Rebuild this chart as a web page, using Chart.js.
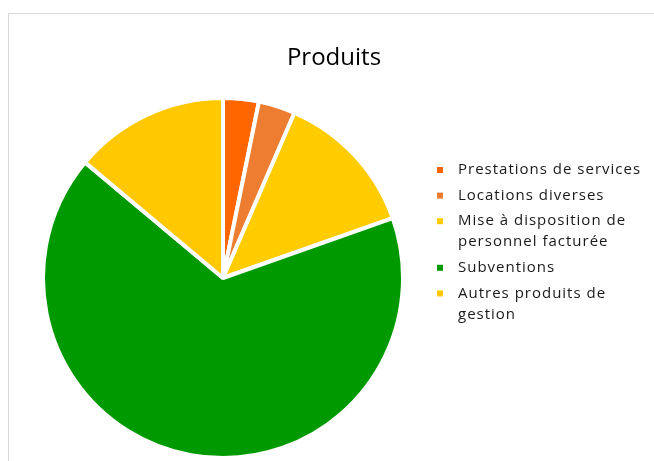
<!DOCTYPE html>
<html><head><meta charset="utf-8">
<script src="https://cdn.jsdelivr.net/npm/chart.js@4.4.1/dist/chart.umd.min.js"></script>
<style>
html,body{margin:0;padding:0;width:654px;height:461px;overflow:hidden;background:#fff;}
#wrap{position:absolute;left:0;top:0;width:654px;height:461px;}
#frame{position:absolute;left:8px;top:13px;width:660px;height:470px;border:1px solid #d9d9d9;pointer-events:none;}
canvas{display:block;}
</style></head><body>
<div id="wrap"><canvas id="c" width="654" height="461"></canvas></div>
<div id="frame"></div>
<script>
const chartTitle = 'Produits';
const categories = ['Prestations de services', 'Locations diverses', 'Mise à disposition de personnel facturée', 'Subventions', 'Autres produits de gestion'];
const values = [3.2, 3.3, 13.1, 66.5, 13.9];
const colors = ['#FF6600', '#ED7D31', '#FFCC00', '#009900', '#FFC800'];

function wrapText(ctx, text, maxW) {
  const words = text.split(' ');
  const lines = [];
  let cur = '';
  words.forEach(w => {
    const test = cur ? cur + ' ' + w : w;
    if (cur && ctx.measureText(test).width > maxW) { lines.push(cur); cur = w; }
    else cur = test;
  });
  if (cur) lines.push(cur);
  return lines;
}

const textPlugin = {
  id: 'textPlugin',
  afterDraw(chart) {
    const ctx = chart.ctx;
    const ds = chart.data.datasets[0];
    ctx.save();
    // title
    ctx.font = '24px "Open Sans"';
    ctx.fillStyle = '#000000';
    ctx.textAlign = 'center';
    ctx.textBaseline = 'alphabetic';
    ctx.fillText(chartTitle, 334, 65);
    // legend
    ctx.font = '15px "Open Sans"';
    try { ctx.letterSpacing = '1px'; } catch (e) {}
    ctx.textAlign = 'left';
    ctx.textBaseline = 'middle';
    let y = 170;
    const lh = 21, gap = 4.6;
    chart.data.labels.forEach((lab, i) => {
      const lines = wrapText(ctx, lab, 192);
      ctx.fillStyle = ds.backgroundColor[i];
      ctx.fillRect(437, y - 3, 6, 6);
      ctx.fillStyle = '#1a1a1a';
      lines.forEach((ln, j) => ctx.fillText(ln, 458, y + j * lh));
      y += lines.length * lh + gap;
    });
    ctx.restore();
  }
};

new Chart(document.getElementById('c'), {
  type: 'pie',
  data: {
    labels: categories,
    datasets: [{
      data: values,
      backgroundColor: colors,
      borderColor: '#ffffff',
      borderWidth: 4
    }]
  },
  options: {
    responsive: false,
    devicePixelRatio: 1,
    animation: false,
    layout: { padding: { left: 41, right: 249, top: 96, bottom: 1 } },
    plugins: {
      legend: { display: false },
      title: { display: false },
      tooltip: { enabled: false }
    }
  },
  plugins: [textPlugin]
});
</script>
</body></html>
